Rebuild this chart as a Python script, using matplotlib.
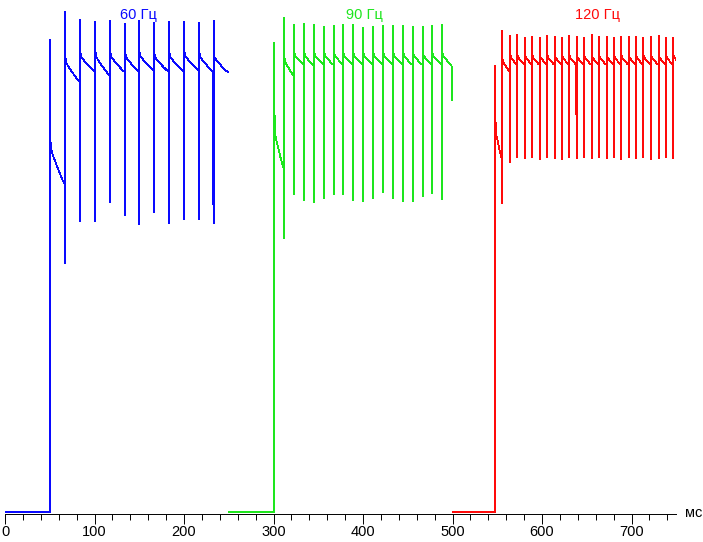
import numpy as np
import matplotlib
matplotlib.use("Agg")
import matplotlib.pyplot as plt
from matplotlib.ticker import MultipleLocator

# ---- data (time in ms, level in arbitrary units) ----
# shape of the decay between two frames (fraction of frame time -> fraction of drop)
decay_t = [0.0, 0.05, 0.15, 0.35, 0.6, 0.85, 1.0]
decay_v = [0.0, 0.2, 0.32, 0.5, 0.72, 0.92, 1.0]

# 60 Hz
blue_window = (0.0, 250.0)
blue_rise = (50.3, 472, 372, 327)          # time, top, level after, level before next
blue_t = [67.4, 84.1, 100.9, 117.7, 134.1, 150.1, 166.8, 183.6, 200.3, 217.1, 233.2]
blue_top = [500, 492, 490, 491, 488, 491, 489, 490, 490, 489, 491]
blue_bottom = [249, 291, 291, 310, 297, 288, 300, 289, 293, 293, 289]
blue_dip = [np.nan, np.nan, np.nan, 312, 347, np.nan, np.nan, np.nan, np.nan, 332, 319]
blue_start = [454, 459, 460, 459, 459, 460, 458, 459, 460, 459, 458]
blue_end = [430, 440, 436, 440, 440, 441, 440, 440, 441, 440, 440]
blue_tail_t = [249.0]
blue_tail_v = [440]

# 90 Hz
green_window = (250.0, 500.0)
green_rise = (300.9, 469, 387, 342)
green_t = [312.1, 323.2, 334.4, 345.6, 356.8, 367.3, 378.0, 389.2, 400.3,
           411.5, 422.7, 433.9, 445.0, 455.5, 466.7, 477.4, 488.6]
green_top = [494, 487, 488, 487, 485, 486, 487, 487, 484, 485, 486, 486, 486, 485, 485, 486, 487]
green_bottom = [274, 318, 312, 310, 314, 318, 318, 312, 311, 314, 320, 314, 311, 311, 316, 319, 313]
green_dip = [np.nan, 400, 322, 330, 432, np.nan, np.nan, np.nan, np.nan,
             397, 351, 341, np.nan, np.nan, np.nan, np.nan, np.nan]
green_start = [454, 459, 459, 459, 459, 460, 459, 459, 459, 459, 459, 459, 459, 460, 459, 459, 459]
green_end = [436, 447, 446, 447, 447, 447, 447, 447, 447, 447, 447, 447, 447, 447, 447, 447, 447]
green_tail_t = [499.0, 499.2, 499.6]
green_tail_v = [447, 427, 412]

# 120 Hz
red_window = (500.0, 750.0)
red_rise = (547.8, 446, 387, 352)
red_t = [555.6, 564.6, 572.4, 581.0, 589.2, 597.4, 605.9, 614.2, 622.3, 630.5, 638.8, 646.9,
         655.5, 663.7, 672.3, 680.4, 688.6, 696.9, 705.0, 713.2, 721.8, 730.4, 738.5, 746.7]
red_top = [481, 476, 477, 474, 475, 474, 476, 475, 474, 476, 475, 474,
           477, 475, 475, 474, 475, 475, 475, 474, 475, 476, 474, 474]
red_bottom = [309, 350, 355, 354, 355, 353, 355, 354, 353, 355, 354, 355,
              354, 355, 354, 355, 353, 355, 354, 355, 353, 354, 355, 354]
red_dip = [np.nan, np.nan, np.nan, np.nan, np.nan, np.nan, 382, np.nan, np.nan, np.nan, 422, 407,
           np.nan, 362, np.nan, 392, 429, np.nan, 379, np.nan, np.nan, np.nan, 429, 404]
red_start = [453] + [457] * 23
red_end = [440] + [447] * 22 + [452]
red_tail_t = [750.0]
red_tail_v = [452]

labels = ["60 Гц", "90 Гц", "120 Гц"]
label_x = [148.6, 402.0, 661.5]
colors = ["#0a0aff", "#1ee61e", "#ff0a0a"]


def decay(t0, t1, v0, v1):
    tt = t0 + np.array(decay_t) * (t1 - t0)
    vv = v0 + np.array(decay_v) * (v1 - v0)
    return list(tt), list(vv)


def build_trace(window, rise, ts, tops, bottoms, dips, starts, ends, tail_t, tail_v):
    t_on, r_top, r_start, r_end = rise
    xs = [window[0], t_on, t_on]
    ys = [0, 0, r_top]
    a, b = decay(t_on + 0.4, ts[0], r_start, r_end)
    xs += a
    ys += b
    for i, t in enumerate(ts):
        if not np.isnan(dips[i]):
            xs += [t - 0.6, t - 0.6]
            ys += [ends[i - 1] if i > 0 else r_end, dips[i]]
        xs += [t, t]
        ys += [bottoms[i], tops[i]]
        t_next = ts[i + 1] if i + 1 < len(ts) else tail_t[0]
        a, b = decay(t + 0.3, t_next, starts[i], ends[i])
        xs += a
        ys += b
    xs += tail_t
    ys += tail_v
    return xs, ys


series = [
    build_trace(blue_window, blue_rise, blue_t, blue_top, blue_bottom, blue_dip,
                blue_start, blue_end, blue_tail_t, blue_tail_v),
    build_trace(green_window, green_rise, green_t, green_top, green_bottom, green_dip,
                green_start, green_end, green_tail_t, green_tail_v),
    build_trace(red_window, red_rise, red_t, red_top, red_bottom, red_dip,
                red_start, red_end, red_tail_t, red_tail_v),
]

W, H = 703, 542
fig = plt.figure(figsize=(W / 100, H / 100), dpi=100)
ax = fig.add_axes([5 / W, (H - 514) / H, 671.25 / W, 514 / H])
ax.set_xlim(0, 750)
ax.set_ylim(-2, 512)

for (xs, ys), c in zip(series, colors):
    ax.plot(xs, ys, color=c, lw=0.55, antialiased=False)

for txt, x, c in zip(labels, label_x, colors):
    ax.text(x, 497, txt, color=c, ha="center", va="center", fontsize=10.5,
            family="Liberation Sans")

for s in ["left", "right", "top"]:
    ax.spines[s].set_visible(False)
ax.spines["bottom"].set_linewidth(0.7)
ax.set_yticks([])
ax.xaxis.set_major_locator(MultipleLocator(100))
ax.xaxis.set_minor_locator(MultipleLocator(20))
ax.tick_params(axis="x", which="major", direction="out", length=7, width=0.7,
               labelsize=10.5, pad=1)
ax.tick_params(axis="x", which="minor", direction="out", length=4, width=0.7)
for lab in ax.get_xticklabels():
    lab.set_family("Liberation Sans")

fig.text(702 / W, (H - 513) / H, "мс", ha="right", va="center", fontsize=10.5,
         family="Liberation Sans")

fig.savefig("out.png", dpi=100)
